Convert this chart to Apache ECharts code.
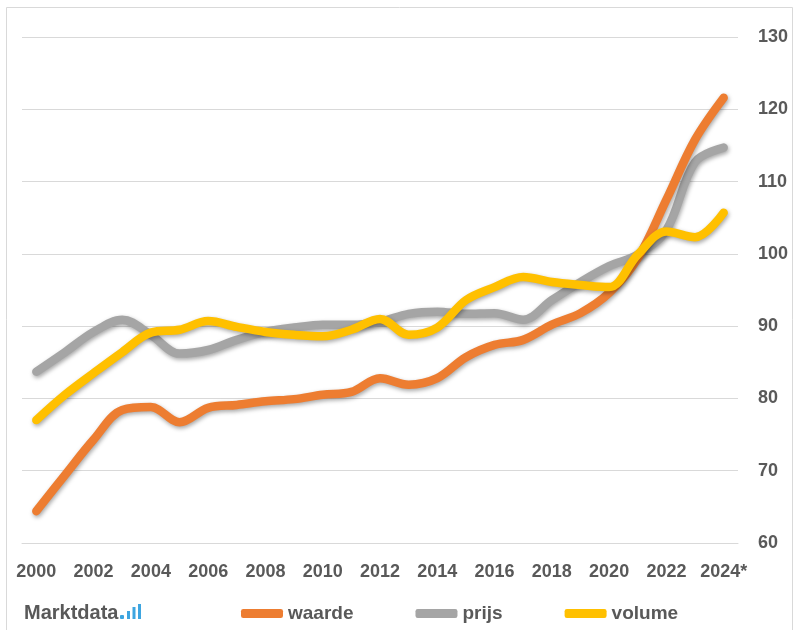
<!DOCTYPE html>
<html><head><meta charset="utf-8">
<script src="https://cdn.jsdelivr.net/npm/echarts@6/dist/echarts.min.js"></script>
<style>html,body{margin:0;padding:0;background:#fff}#c{width:800px;height:630px}</style>
</head><body><div id="c"></div>
<script>
const years = ['2000','2001','2002','2003','2004','2005','2006','2007','2008','2009','2010','2011','2012','2013','2014','2015','2016','2017','2018','2019','2020','2021','2022','2023','2024*'];
const waarde = [64.4,69.4,74.3,78.4,78.8,76.7,78.7,79.1,79.6,79.9,80.5,80.9,82.8,81.9,82.8,85.7,87.4,88.1,90.2,91.8,94.6,99.4,107.5,115.8,121.6];
const prijs  = [83.7,86.4,89.2,90.9,88.8,86.2,86.7,88.1,89.2,89.8,90.2,90.2,90.6,91.7,92.0,91.7,91.8,90.9,93.6,96.1,98.3,99.9,103.3,112.7,114.7];
const volume = [77.0,80.5,83.5,86.4,89.1,89.5,90.7,89.9,89.2,88.8,88.6,89.5,91.0,88.8,89.8,93.6,95.4,96.8,96.1,95.7,95.4,99.9,103.1,102.3,105.7];
const seriesNames = ['waarde','prijs','volume'];
const colors = ['#ED7D31','#A5A5A5','#FFC000'];
const yTicks = {min:60, max:130, interval:10};

const chart = echarts.init(document.getElementById('c'));
const font = 'Liberation Sans, Arial, sans-serif';
function mk(name, data, color, z){
  return {name, type:'line', data, smooth:0.35, symbol:'none', z,
    itemStyle:{color},
    lineStyle:{color, width:8.5, cap:'round', join:'round', shadowColor:'rgba(0,0,0,0.35)', shadowBlur:4, shadowOffsetY:2, shadowOffsetX:1}};
}
chart.setOption({
  animation:false,
  backgroundColor:'#fff',
  grid:{left:22, right:62, top:37, bottom:87},
  xAxis:{type:'category', data:years, boundaryGap:true,
    axisLine:{show:true, lineStyle:{color:'#D9D9D9', width:1}},
    axisTick:{show:false},
    axisLabel:{interval:1, color:'#595959', fontSize:18, fontWeight:'bold', fontFamily:font, margin:20}},
  yAxis:{type:'value', position:'right', min:yTicks.min, max:yTicks.max, interval:yTicks.interval,
    axisLine:{show:false}, axisTick:{show:false},
    splitLine:{lineStyle:{color:'#D9D9D9', width:1}},
    axisLabel:{color:'#595959', fontSize:18, fontWeight:'bold', fontFamily:font, margin:20, align:'left', padding:[3,0,0,0]}},
  legend:{data:seriesNames, left:236, top:599, itemWidth:42, itemHeight:9, itemGap:62,
    icon:'roundRect',
    textStyle:{color:'#595959', fontSize:19, fontWeight:'bold', fontFamily:font}},
  series:[mk(seriesNames[1], prijs, colors[1], 2), mk(seriesNames[0], waarde, colors[0], 3), mk(seriesNames[2], volume, colors[2], 4)],
  graphic:[
    {type:'rect', shape:{x:6.5, y:7.5, width:786, height:640}, style:{fill:'none', stroke:'#D9D9D9', lineWidth:1}, silent:true},
    {type:'text', left:24, top:603, style:{text:'Marktdata', fill:'#595959', font:'bold 20px '+font}},
    {type:'rect', shape:{x:120, y:615, width:4, height:4, r:1}, style:{fill:'#3DA5E0'}},
    {type:'rect', shape:{x:127, y:611, width:3, height:8}, style:{fill:'#3DA5E0'}},
    {type:'rect', shape:{x:132.5, y:607, width:3, height:12}, style:{fill:'#3DA5E0'}},
    {type:'rect', shape:{x:138, y:604, width:3, height:15}, style:{fill:'#3DA5E0'}}
  ]
});
</script></body></html>
